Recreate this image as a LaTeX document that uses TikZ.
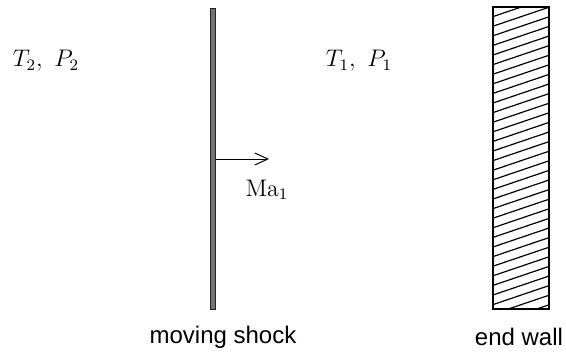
\documentclass[tikz,border=0pt]{standalone}
\usepackage{fontspec}
\setsansfont{Liberation Sans}
\usetikzlibrary{arrows.meta}
\begin{document}
\begin{tikzpicture}[x=0.5pt,y=-0.5pt,
  lbl/.style={font=\fontsize{12}{14}\selectfont\sffamily, inner sep=0pt},
  mlbl/.style={font=\fontsize{12}{14}\selectfont, inner sep=0pt},
  shockbar/.style={draw=black!85, fill=black!55, line width=0.5pt},
  wallbox/.style={draw=black, line width=0.6pt},
  hatchline/.style={line width=0.6pt},
  flowarrow/.style={-{Straight Barb[length=6.5pt,width=6pt,line width=0.5pt]}, line width=0.5pt}]
\useasboundingbox (0,0) rectangle (566,353);
% moving shock
\node[shockbar, minimum width=2.5pt, minimum height=150pt, inner sep=0pt] (shock) at (213,159) {};
\coordinate (atip) at (269,159);
\draw[flowarrow] (shock.east |- atip) -- (atip);
\node[mlbl] (ma) at (267,190) {$\mathrm{Ma}_1$};
% end wall
\node[wallbox, minimum width=28pt, minimum height=151pt, inner sep=0pt] (wall) at (521,158) {};
\begin{scope}
\clip (wall.south west) rectangle (wall.north east);
\foreach \y in {0,9.6,...,360} {
  \draw[hatchline] (490,\y+8) -- (552,\y-13);
}
\end{scope}
\draw[wallbox] (wall.south west) rectangle (wall.north east);
% labels
\node[mlbl] (s2) at (46,61) {$T_2,\ P_2$};
\node[mlbl] (s1) at (359,61) {$T_1,\ P_1$};
\node[lbl] (ml) at (223,337) {moving shock};
\node[lbl] (el) at (519,337) {end wall};
\end{tikzpicture}
\end{document}
